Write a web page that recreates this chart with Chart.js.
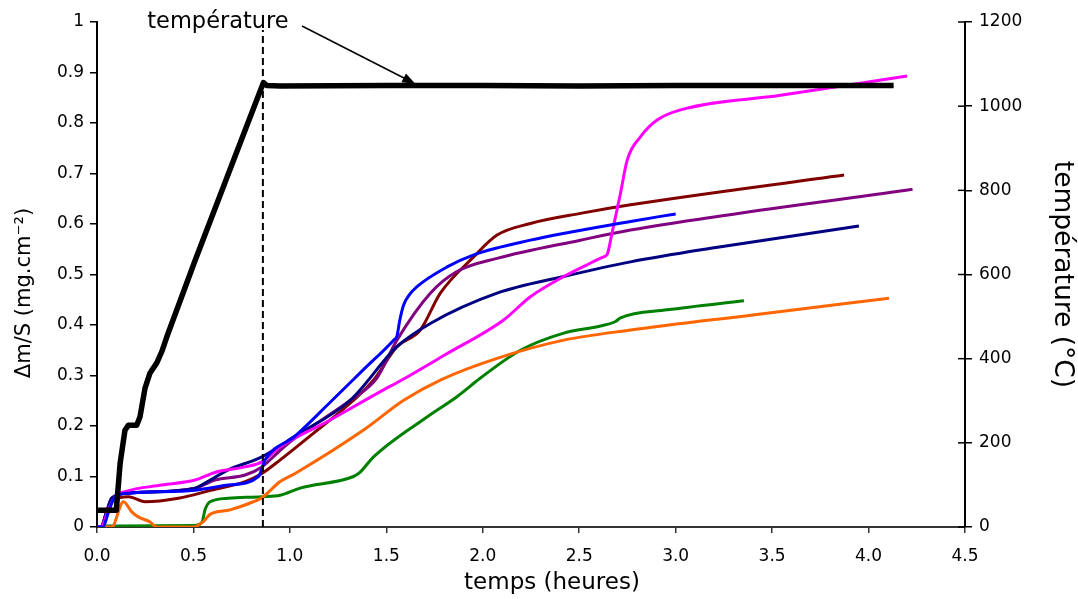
<!DOCTYPE html>
<html>
<head>
<meta charset="utf-8">
<script src="https://cdn.jsdelivr.net/npm/chart.js@4.4.1/dist/chart.umd.min.js"></script>
<style>
html,body{margin:0;padding:0;background:#fff;}
#wrap{width:1078px;height:599px;position:relative;}
</style>
</head>
<body>
<div id="wrap"><canvas id="c"></canvas></div>
<script>
// ---- data ----
const xTitle = 'temps (heures)';
const yLeftLabel = 'Δm/S (mg.cm⁻²)';
const yRightLabel = 'température (°C)';
const annotationText = 'température';

const tempX = [0, 0.10, 0.12, 0.145, 0.163, 0.206, 0.223, 0.249, 0.275, 0.31, 0.336, 0.362, 0.509, 0.70, 0.863, 0.88, 0.95, 1.5, 2.0, 2.5, 3.0, 3.5, 4.13];
const tempY = [40, 40, 152, 230, 242, 242, 262, 330, 366, 390, 417, 452, 634, 862, 1056, 1049, 1048, 1049, 1049, 1048, 1049, 1049, 1049];

const magentaX = [0, 0.02, 0.06, 0.093, 0.145, 0.336, 0.509, 0.612, 0.768, 0.855, 0.95, 1.2, 1.469, 1.58, 1.8, 2.108, 2.247, 2.42, 2.53, 2.62, 2.645, 2.67, 2.714, 2.749, 2.818, 2.904, 3.025, 3.544, 4.2];
const magentaY = [0, 0, 0.035, 0.06, 0.07, 0.083, 0.093, 0.108, 0.119, 0.129, 0.159, 0.21, 0.268, 0.291, 0.34, 0.41, 0.456, 0.496, 0.517, 0.534, 0.54, 0.582, 0.661, 0.727, 0.773, 0.806, 0.826, 0.855, 0.893];

const blueX = [0, 0.03, 0.06, 0.093, 0.163, 0.509, 0.681, 0.837, 0.872, 1.027, 1.209, 1.38, 1.54, 1.555, 1.57, 1.59, 1.62, 1.659, 1.815, 1.953, 2.247, 2.766, 3.0];
const blueY = [0, 0, 0.03, 0.06, 0.067, 0.073, 0.083, 0.1, 0.133, 0.18, 0.247, 0.311, 0.371, 0.378, 0.41, 0.44, 0.46, 0.476, 0.515, 0.539, 0.568, 0.605, 0.62];

const maroonX = [0, 0.02, 0.05, 0.085, 0.163, 0.249, 0.422, 0.595, 0.768, 0.855, 0.95, 1.123, 1.33, 1.434, 1.555, 1.676, 1.78, 1.953, 2.074, 2.247, 2.506, 2.766, 3.873];
const maroonY = [0, 0, 0.03, 0.053, 0.06, 0.05, 0.057, 0.073, 0.09, 0.106, 0.133, 0.186, 0.251, 0.291, 0.357, 0.39, 0.463, 0.535, 0.578, 0.601, 0.621, 0.638, 0.697];

const purpleX = [0, 0.02, 0.05, 0.076, 0.163, 0.509, 0.612, 0.768, 0.855, 0.95, 1.027, 1.313, 1.451, 1.555, 1.728, 1.866, 2.074, 2.506, 2.766, 4.228];
const purpleY = [0, 0, 0.03, 0.057, 0.067, 0.077, 0.093, 0.103, 0.119, 0.152, 0.176, 0.251, 0.295, 0.37, 0.463, 0.506, 0.532, 0.568, 0.588, 0.669];

const navyX = [0, 0.02, 0.05, 0.076, 0.163, 0.509, 0.56, 0.681, 0.855, 1.027, 1.313, 1.555, 1.728, 2.074, 2.42, 2.766, 3.2, 3.95];
const navyY = [0, 0, 0.03, 0.057, 0.067, 0.077, 0.087, 0.113, 0.139, 0.18, 0.251, 0.357, 0.403, 0.463, 0.496, 0.525, 0.553, 0.596];

const orangeX = [0, 0.076, 0.137, 0.18, 0.214, 0.275, 0.31, 0.5, 0.55, 0.586, 0.69, 0.81, 0.855, 0.95, 1.027, 1.382, 1.59, 1.78, 2.074, 2.42, 2.766, 3.4, 4.106];
const orangeY = [0, 0, 0.05, 0.03, 0.02, 0.01, 0, 0, 0.01, 0.025, 0.034, 0.05, 0.058, 0.09, 0.106, 0.192, 0.251, 0.291, 0.334, 0.37, 0.39, 0.42, 0.453];

const greenX = [0, 0.05, 0.509, 0.545, 0.56, 0.586, 0.681, 0.855, 0.95, 1.053, 1.33, 1.36, 1.434, 1.711, 1.866, 1.988, 2.195, 2.42, 2.61, 2.688, 2.714, 2.956, 3.354];
const greenY = [0, 0.002, 0.003, 0.01, 0.034, 0.05, 0.057, 0.06, 0.063, 0.077, 0.1, 0.107, 0.139, 0.218, 0.258, 0.295, 0.35, 0.384, 0.398, 0.407, 0.414, 0.43, 0.448];

const markerX = [0.86, 0.86];
const markerY = [0, 0.984];

const arrowTip = {x: 1.65, t: 1046};

// ---- build ----
function pts(xs, ys){ return xs.map((x,i)=>({x:x, y:ys[i]})); }
const FONT = "'DejaVu Sans', sans-serif";

function series(data, color, axis){
  return {data:data, borderColor:color, backgroundColor:color, borderWidth:3, pointRadius:0,
          cubicInterpolationMode:'monotone', yAxisID:axis||'y', fill:false};
}

const datasets = [
  {data: pts(markerX, markerY), borderColor:'#000', borderWidth:2, borderDash:[7,4], pointRadius:0, yAxisID:'y', tension:0},
  {data: pts(tempX, tempY), borderColor:'#000', borderWidth:5.5, pointRadius:0, yAxisID:'y2', tension:0, borderJoinStyle:'round'},
  series(pts(blueX, blueY), '#0000FF'),
  series(pts(magentaX, magentaY), '#FF00FF'),
  series(pts(navyX, navyY), '#000080'),
  series(pts(purpleX, purpleY), '#800080'),
  series(pts(maroonX, maroonY), '#800000'),
  series(pts(orangeX, orangeY), '#FF6600'),
  series(pts(greenX, greenY), '#008000')
];

const extras = {
  id:'extras',
  afterDraw(chart){
    const ctx = chart.ctx;
    const xs = chart.scales.x, y2 = chart.scales.y2;
    ctx.save();
    ctx.fillStyle = '#000';
    ctx.strokeStyle = '#000';
    // annotation text
    ctx.font = '22.5px ' + FONT;
    ctx.textAlign = 'center';
    ctx.textBaseline = 'alphabetic';
    ctx.fillText(annotationText, 218, 28);
    // arrow
    const x0 = 302, yy0 = 26;
    const x1 = xs.getPixelForValue(arrowTip.x), yy1 = y2.getPixelForValue(arrowTip.t) - 3;
    const ang = Math.atan2(yy1 - yy0, x1 - x0);
    ctx.lineWidth = 1.5;
    ctx.beginPath(); ctx.moveTo(x0, yy0); ctx.lineTo(x1 - 10*Math.cos(ang), yy1 - 10*Math.sin(ang)); ctx.stroke();
    ctx.beginPath();
    ctx.moveTo(x1, yy1);
    ctx.lineTo(x1 - 13*Math.cos(ang) + 5*Math.sin(ang), yy1 - 13*Math.sin(ang) - 5*Math.cos(ang));
    ctx.lineTo(x1 - 13*Math.cos(ang) - 5*Math.sin(ang), yy1 - 13*Math.sin(ang) + 5*Math.cos(ang));
    ctx.closePath(); ctx.fill();
    // left title
    ctx.save();
    ctx.translate(25, 293);
    ctx.rotate(-Math.PI/2);
    ctx.font = '21px ' + FONT;
    ctx.textAlign = 'center';
    ctx.textBaseline = 'middle';
    ctx.fillText(yLeftLabel, 0, 0);
    ctx.restore();
    // x title
    ctx.font = '23px ' + FONT;
    ctx.textAlign = 'center';
    ctx.textBaseline = 'middle';
    ctx.fillText(xTitle, 552, 583);
    // inner half of right-axis ticks
    ctx.lineWidth = 1.5;
    const ry = chart.scales.y2;
    ry.ticks.forEach(t => {
      const py = ry.getPixelForValue(t.value);
      ctx.beginPath(); ctx.moveTo(ry.left - 7, py); ctx.lineTo(ry.left, py); ctx.stroke();
    });
    ctx.restore();
  }
};

new Chart(document.getElementById('c'), {
  type:'line',
  data:{datasets:datasets},
  options:{
    responsive:true, maintainAspectRatio:false, animation:false,
    layout:{padding:{top:22, left:0, right:0, bottom:0}},
    plugins:{legend:{display:false}, tooltip:{enabled:false}},
    scales:{
      x:{type:'linear', min:0, max:4.5,
         afterFit(s){ s.height = 72; },
         ticks:{stepSize:0.5, color:'#000', font:{family:FONT, size:17}, padding:13, maxRotation:0,
                callback:v=>Number(v).toFixed(1)},
         grid:{drawOnChartArea:false, drawTicks:true, tickLength:6, color:'#333', lineWidth:1.5},
         border:{display:true, color:'#333', width:2}},
      y:{position:'left', min:0, max:1,
         afterFit(s){ s.width = 97; },
         ticks:{stepSize:0.1, color:'#000', font:{family:FONT, size:17}, padding:6,
                callback:v=>String(Math.round(v*10)/10)},
         grid:{drawOnChartArea:false, drawTicks:true, tickLength:7, color:'#000', lineWidth:1.5},
         border:{display:true, color:'#000', width:2}},
      y2:{position:'right', min:0, max:1200,
         afterFit(s){ s.width = 113; },
         ticks:{stepSize:200, color:'#000', font:{family:FONT, size:17}, padding:7,
                callback:v=>String(Math.round(v))},
         grid:{drawOnChartArea:false, drawTicks:true, tickLength:7, color:'#000', lineWidth:1.5},
         border:{display:true, color:'#000', width:2},
         title:{display:true, text:yRightLabel, color:'#000', font:{family:FONT, size:26.5}, padding:{top:0, bottom:0}}}
    }
  },
  plugins:[extras]
});
</script>
</body>
</html>
